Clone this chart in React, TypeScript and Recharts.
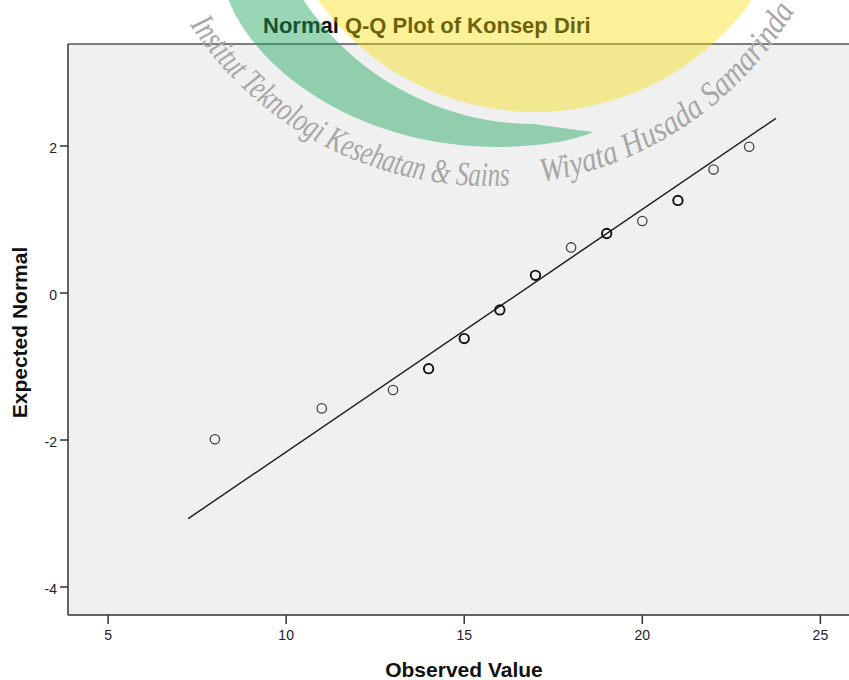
import {
  ScatterChart, Scatter, XAxis, YAxis, CartesianGrid, ReferenceLine, Label
} from "recharts";

// observed scores and their expected normal quantiles
const observed = [8, 11, 13, 14, 15, 16, 17, 18, 19, 20, 21, 22, 23];
const expected = [-1.99, -1.57, -1.32, -1.03, -0.62, -0.23, 0.24, 0.62, 0.81, 0.98, 1.26, 1.68, 1.99];
// tied cases are overplotted, so those circles look darker
const ties = [1, 1, 1, 2, 2, 2, 2, 1, 2, 1, 2, 1, 1];

const xTicks = [5, 10, 15, 20, 25];
const yTicks = [-4, -2, 0, 2];
const xDomain = [3.875, 26];
const yDomain = [-4.381, 3.388];

// reference line: y = (x - mean) / sd
const fitMean = 16.55;
const fitSd = 3.03;
const fitRange = [7.25, 23.75];

const points = observed.map((x, i) => ({ x, y: expected[i], n: ties[i] }));
const fitSegment = fitRange.map((x) => ({ x, y: (x - fitMean) / fitSd }));

const FONT = "'Liberation Sans', Arial, sans-serif";
const SERIF = "'Liberation Serif', 'DejaVu Serif', serif";

function Ring(props: any) {
  const { cx, cy, payload } = props;
  const heavy = payload && payload.n > 1;
  return (
    <circle
      cx={cx}
      cy={cy}
      r={4.7}
      fill="none"
      stroke={heavy ? "#111" : "#444"}
      strokeWidth={heavy ? 1.9 : 1.3}
    />
  );
}

// faint logo stamp lying over the whole figure
function Watermark() {
  const arc = "M 190 24.8 A 356 356 0 0 0 795 10";
  return (
    <svg width={849} height={680} style={{ position: "absolute", left: 0, top: 0, pointerEvents: "none" }}>
      <defs>
        <path id="wm-arc" d={arc} />
      </defs>
      <circle cx={535} cy={-154} r={266} fill="#f5dc00" opacity={0.4} />
      <path
        d="M 225 -10 C 250 70, 360 148, 500 147 C 545 146, 575 140, 593 132 Q 560 128 535 124 A 278 278 0 0 1 297 -10 Z"
        fill="#1aa55a"
        opacity={0.45}
      />
      <text fill="#a6a6a6" fontFamily={SERIF} fontStyle="italic" fontSize={34}>
        <textPath href="#wm-arc" startOffset={0} textLength={375} lengthAdjust="spacingAndGlyphs">
          Institut Teknologi Kesehatan &amp; Sains
        </textPath>
      </text>
      <text fill="#a6a6a6" fontFamily={SERIF} fontStyle="italic" fontSize={34}>
        <textPath href="#wm-arc" startOffset={407} textLength={316} lengthAdjust="spacingAndGlyphs">
          Wiyata Husada Samarinda
        </textPath>
      </text>
    </svg>
  );
}

export default function App() {
  return (
    <div style={{ position: "absolute", left: 0, top: 0, width: 849, height: 680, overflow: "hidden", background: "#fff", fontFamily: FONT }}>
      <div style={{ position: "absolute", left: 0, top: 0 }}>
        <ScatterChart width={856} height={680} margin={{ top: 44, right: 0, bottom: 0, left: 0 }}>
          <CartesianGrid horizontal={false} vertical={false} fill="#f0f0f0" />
          <XAxis
            type="number"
            dataKey="x"
            domain={xDomain}
            ticks={xTicks}
            allowDataOverflow
            height={65}
            tickSize={9}
            tickMargin={6}
            stroke="#333"
            strokeWidth={1.5}
            tick={{ fontSize: 14, fill: "#222", fontFamily: FONT }}
          >
            <Label
              content={(p: any) => {
                const vb = p.viewBox || {};
                return (
                  <text x={vb.x + vb.width / 2 + 2} y={677} textAnchor="middle" fontSize={21} fontWeight="bold" fill="#111" fontFamily={FONT}>
                    Observed Value
                  </text>
                );
              }}
            />
          </XAxis>
          <YAxis
            type="number"
            dataKey="y"
            domain={yDomain}
            ticks={yTicks}
            allowDataOverflow
            width={68}
            tickSize={8}
            tickMargin={3}
            stroke="#333"
            strokeWidth={1.5}
            tick={{ fontSize: 14, fill: "#222", fontFamily: FONT, dy: 2 }}
          >
            <Label
              content={(p: any) => {
                const vb = p.viewBox || {};
                const cy = vb.y + vb.height / 2 + 3;
                return (
                  <text x={27} y={cy} transform={`rotate(-90 27 ${cy})`} textAnchor="middle" fontSize={21} fontWeight="bold" fill="#111" fontFamily={FONT}>
                    Expected Normal
                  </text>
                );
              }}
            />
          </YAxis>
          <ReferenceLine y={yDomain[1]} stroke="#555" strokeWidth={1.5} />
          <ReferenceLine segment={fitSegment} stroke="#222" strokeWidth={1.5} />
          <Scatter data={points} shape={<Ring />} isAnimationActive={false} />
        </ScatterChart>
      </div>
      <div style={{ position: "absolute", left: 263, top: 12, whiteSpace: "nowrap", fontSize: 22, fontWeight: "bold", color: "#111", lineHeight: "28px" }}>
        Normal Q-Q Plot of Konsep Diri
      </div>
      <Watermark />
    </div>
  );
}
